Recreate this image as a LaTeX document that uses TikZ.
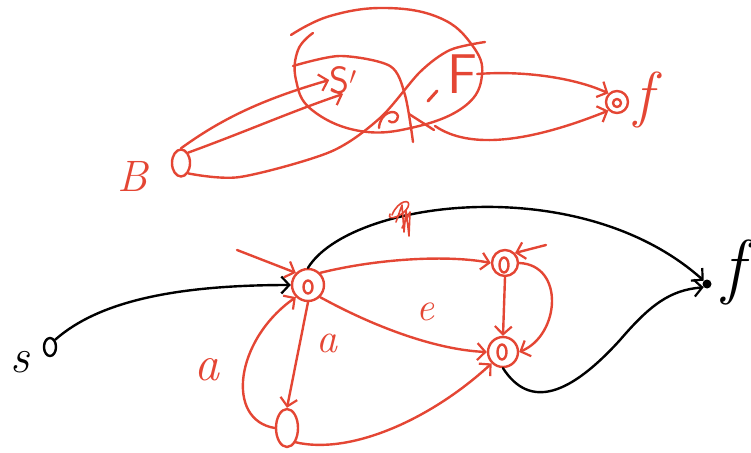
\documentclass[tikz,border=0pt]{standalone}
\usetikzlibrary{arrows.meta,shapes.geometric}
\definecolor{sk}{RGB}{228,70,52}
\newcommand{\fsz}[1]{\fontsize{#1}{#1}\selectfont}
\begin{document}
\begin{tikzpicture}[x=1pt,y=-1pt,
  ink/.style={line width=2.4pt,line cap=round,line join=round},
  rd/.style={ink,draw=sk},
  bk/.style={ink,draw=black},
  arr/.style={-{Straight Barb[length=8pt,width=17pt,line width=2.2pt]}},
  lbl/.style={inner sep=0pt},
  dbl/.style={circle,rd,minimum size=#1,inner sep=0pt},
]
\useasboundingbox (0,0) rectangle (751,452);
% ---------------- top graph ----------------
\node[ellipse,rd,minimum width=18pt,minimum height=27pt,inner sep=0pt] (B) at (181,163) {};
\node[lbl,text=sk,font=\fsz{44}\itshape] (Blab) at (133,176) {B};
\node[lbl,text=sk,font=\fsz{38}\sffamily] (S) at (343,80) {S$'$};
\node[lbl,text=sk,font=\fsz{56}\sffamily] (F) at (462,74) {F};
\node[dbl=22pt] (f1) at (617,102) {};
\node[circle,rd,minimum size=8pt,inner sep=0pt] (f1i) at (617,103) {};
\node[lbl,text=sk,font=\fsz{62}\itshape] (f1lab) at (644,100) {f};
% big loop
\draw[rd] plot[smooth,tension=0.7] coordinates {(313,33) (298,50) (296,80) (312,110) (360,131) (415,127) (465,106) (482,75) (472,45) (440,18) (386,8) (330,16) (291,35)};
% inner arc
\draw[rd] plot[smooth] coordinates {(293,66) (340,56) (390,66) (405,95) (413,142)};
% long curve from B
\draw[rd] plot[smooth] coordinates {(B.south east) (240,177) (330,152) (380,118) (420,72) (450,50) (485,42)};
% small marks
\draw[rd] (379,128) .. controls (380,112) and (396,108) .. (398,116) .. controls (398,122) and (392,124) .. (389,121);
\draw[rd,line width=3pt] (428,101) -- (437,91);
\draw[rd] (409,114) -- (434,130);
% B to S'
\draw[rd,arr] (B.north) .. controls (220,120) and (260,100) .. (S.west);
\draw[rd,arr] (B.north east) .. controls (250,130) and (290,112) .. (S.south);
% to f
\draw[rd,arr] (F.east) .. controls (530,70) and (580,80) .. (f1.north west);
\draw[rd,arr] (435,126) .. controls (470,150) and (530,142) .. (f1.south west);
% ---------------- bottom graph ----------------
\node[ellipse,bk,minimum width=12pt,minimum height=18pt,inner sep=0pt] (s) at (50,347) {};
\node[lbl,font=\fsz{48}\itshape] (slab) at (20,362) {s};
\node[dbl=32pt] (A) at (308,285) {};
\node[ellipse,rd,minimum width=9pt,minimum height=13pt,inner sep=0pt] (Ai) at (308,287) {};
\node[dbl=26pt] (P) at (505,263) {};
\node[ellipse,rd,minimum width=9pt,minimum height=15pt,inner sep=0pt] (Pi) at (504,265) {};
\node[dbl=30pt] (C) at (503,352) {};
\node[ellipse,rd,minimum width=9pt,minimum height=15pt,inner sep=0pt] (Ci) at (502,352) {};
\node[ellipse,rd,minimum width=22pt,minimum height=38pt,inner sep=0pt] (D) at (287,428) {};
\node[circle,fill=black,minimum size=9pt,inner sep=0pt] (f2) at (707,284) {};
\node[lbl,font=\fsz{72}\itshape] (f2lab) at (733,272) {f};
\coordinate (startA) at (237,250);
\coordinate (startP) at (546,245);
% edges
\draw[bk,arr] (s.north east) .. controls (100,300) and (180,285) .. (A.west);
\draw[rd,arr] (startA) -- (A.north west);
\draw[rd,arr] (A.north east) .. controls (380,258) and (450,255) .. (P.west);
\draw[rd,arr] (startP) -- (P.north east);
\draw[rd,arr] (P.south) -- (C.north);
\draw[rd,arr] (P.east) .. controls (565,265) and (560,335) .. (C.east);
\draw[rd,arr] (A.south east) .. controls (380,330) and (440,350) .. (C.west);
\draw[rd,arr] (A.south) -- (D.north);
\draw[rd,arr] (D.west) .. controls (225,420) and (235,340) .. (A.south west);
\draw[rd,arr] (D.south east) .. controls (350,455) and (430,420) .. (C.south west);
\draw[bk,arr] (C.south) .. controls (530,410) and (570,395) .. (620,340) .. controls (650,305) and (670,290) .. (f2.south west);
\draw[bk,arr] (A.north) .. controls (350,200) and (580,170) .. (f2.north west);
% labels
\node[lbl,text=sk,font=\fsz{40}\itshape] (la1) at (425,312) {e};
\node[lbl,text=sk,font=\fsz{42}\itshape] (la2) at (327,343) {a};
\node[lbl,text=sk,font=\fsz{50}\itshape] (la3) at (207,370) {a};
% scribble
\draw[rd,line width=1.6pt] (392,215) .. controls (398,200) and (412,198) .. (408,207) .. controls (404,216) and (386,222) .. (390,214);
\draw[rd,line width=1.6pt] (396,222) -- (402,205) -- (404,232) -- (406,210) -- (409,236) -- (410,212) -- (402,228);
\end{tikzpicture}
\end{document}
